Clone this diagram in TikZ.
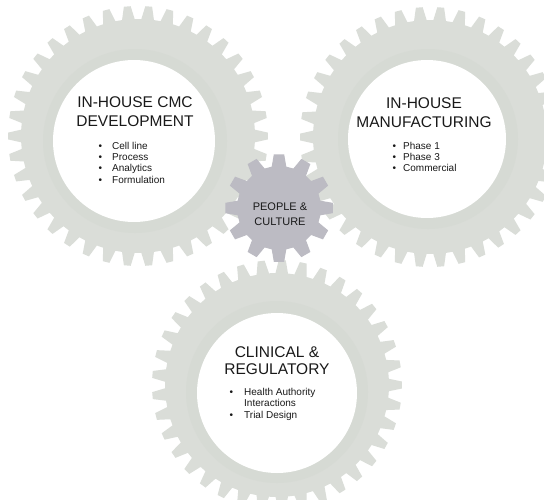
\documentclass[tikz,border=0pt]{standalone}
\usepackage{fontspec}
\setmainfont{Liberation Sans}
\definecolor{gearbody}{RGB}{218,221,216}
\definecolor{gearring}{RGB}{214,218,212}
\definecolor{hubgear}{RGB}{188,187,195}
\definecolor{txt}{RGB}{25,25,25}
\newcommand\mygear[7]{%
  \pgfmathtruncatemacro\gearlast{#3-1}%
  \fill[#1,shift={#2}] (-#6:#4)
    \foreach \k [evaluate=\k as \a using \k*360/#3] in {0,...,\gearlast}
      { -- (\a-#6:#4) -- (\a-#7:#5) -- (\a+#7:#5) -- (\a+#6:#4) } -- cycle;%
}
\newcommand\bitem[2]{\makebox[#1][l]{\textbullet}#2}
\tikzset{
  title/.style={font=\fontsize{15.5}{19}\selectfont, text=txt, anchor=base, inner sep=0pt},
  item/.style={font=\fontsize{10}{12}\selectfont, text=txt, anchor=base west, inner sep=0pt},
  hubtext/.style={font=\fontsize{11}{14}\selectfont, text=txt, anchor=base, inner sep=0pt}
}
\begin{document}
\begin{tikzpicture}[x=1pt,y=-1pt]
\useasboundingbox (0,0) rectangle (544,499);
\fill[white] (0,0) rectangle (544,499);
\clip (0,0) rectangle (544,499);
% left gear
\coordinate (gl) at (138,136);
\mygear{gearbody}{(gl)}{38}{117}{130}{3.1}{1.5}
\fill[gearring] (135,141) circle[radius=92];
\fill[white] (134,141) circle[radius=81];
% right gear
\coordinate (gr) at (430,137);
\mygear{gearbody}{(gr)}{38}{117}{130}{3.1}{1.5}
\fill[gearring] (428,139) circle[radius=90];
\fill[white] (427,139) circle[radius=79];
% bottom gear
\coordinate (gb) at (277,385);
\mygear{gearbody}{(gb)}{37}{112}{125}{3.2}{1.6}
\fill[gearring] (277,392) circle[radius=91];
\fill[white] (277,393) circle[radius=80];
% hub gear
\coordinate (gh) at (279,208);
\mygear{hubgear}{(gh)}{12}{42}{54}{10}{5.5}
% texts
\node[title] (t1a) at (135,107.8) {IN-HOUSE CMC};
\node[title] (t1b) at (135,126.3) {DEVELOPMENT};
\node[item] (l1) at (98.5,149.3) {\bitem{13.5pt}{Cell line}};
\node[item] (l2) at (98.5,160.4) {\bitem{13.5pt}{Process}};
\node[item] (l3) at (98.5,171.9) {\bitem{13.5pt}{Analytics}};
\node[item] (l4) at (98.5,183.5) {\bitem{13.5pt}{Formulation}};
\node[title] (t2a) at (424,108.9) {IN-HOUSE};
\node[title] (t2b) at (424,127.3) {MANUFACTURING};
\node[item] (r1) at (392.5,149.3) {\bitem{10.5pt}{Phase 1}};
\node[item] (r2) at (392.5,160.4) {\bitem{10.5pt}{Phase 3}};
\node[item] (r3) at (392.5,171.9) {\bitem{10.5pt}{Commercial}};
\node[title] (t3a) at (277,357.3) {CLINICAL \&};
\node[title] (t3b) at (277,374.3) {REGULATORY};
\node[item] (b1) at (229.5,395.3) {\bitem{14.5pt}{Health Authority}};
\node[item] (b2) at (229.5,406.9) {\hspace{14.5pt}Interactions};
\node[item] (b3) at (229.5,418.6) {\bitem{14.5pt}{Trial Design}};
\node[hubtext] (h1) at (280,210.6) {PEOPLE \&};
\node[hubtext] (h2) at (280,225) {CULTURE};
\end{tikzpicture}
\end{document}
